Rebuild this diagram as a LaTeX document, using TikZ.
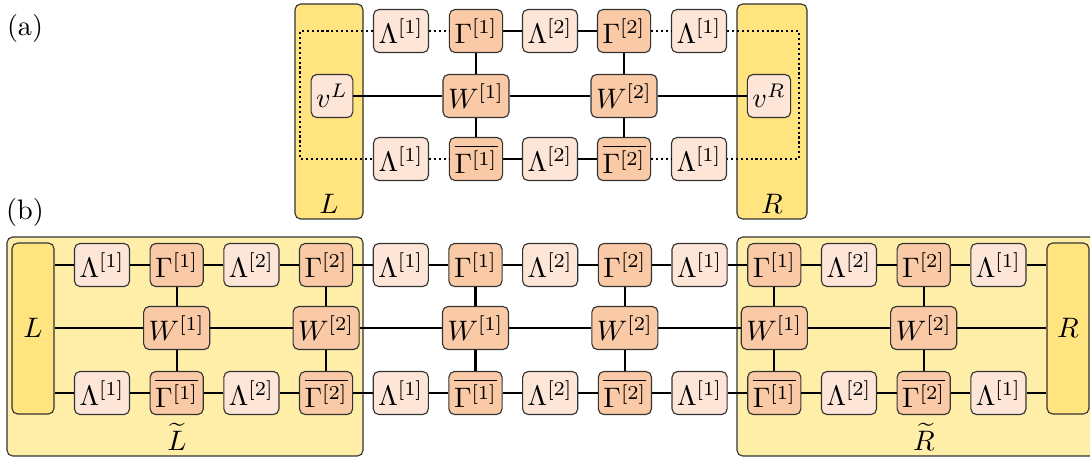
\documentclass[tikz,border=0pt]{standalone}
\usetikzlibrary{fit}
\definecolor{lamcol}{HTML}{FDE6D8}
\definecolor{gamcol}{HTML}{FAC9A6}
\definecolor{envcol}{HTML}{FFE47F}
\definecolor{blkcol}{HTML}{FFEEA8}
\tikzset{
  lam/.style={draw=black!80,fill=lamcol,rounded corners=2pt,minimum height=15.3pt,inner xsep=1.8pt,inner ysep=1pt},
  gam/.style={lam,fill=gamcol},
  env/.style={draw=black!80,fill=envcol,rounded corners=2pt,inner sep=0pt},
  blk/.style={draw=black!80,fill=blkcol,rounded corners=2pt,inner sep=0pt},
  lab/.style={inner sep=0pt},
  bond/.style={line width=0.75pt},
  dbond/.style={line width=0.75pt,densely dotted}
}
\begin{document}
\begin{tikzpicture}[x=0.355pt,y=-0.355pt]
  \useasboundingbox (0,0) rectangle (1090,457);
  \node[lab] (la) at (25,28) {(a)};
  \node[lab] (lb) at (25,212) {(b)};

  % (a) environments
  \node[env,fit={(295,4) (363,219)}] (aL) {};
  \node[env,fit={(737,4) (807,219)}] (aR) {};
  \node[lab] (aLlab) at (329,204) {$L$};
  \node[lab] (aRlab) at (772,204) {$R$};

  % (a) tensors
  \node[lam] (atl1) at (401,31) {$\Lambda^{[1]}$};
  \node[gam] (atg1) at (476,31) {$\Gamma^{[1]}$};
  \node[lam] (atl2) at (550,31) {$\Lambda^{[2]}$};
  \node[gam] (atg2) at (624,31) {$\Gamma^{[2]}$};
  \node[lam] (atl3) at (699,31) {$\Lambda^{[1]}$};
  \node[lam] (avL) at (332,96) {$v^L$};
  \node[gam] (aw1) at (476,96) {$W^{[1]}$};
  \node[gam] (aw2) at (624,96) {$W^{[2]}$};
  \node[lam] (avR) at (769,96) {$v^R$};
  \node[lam] (abl1) at (401,159) {$\Lambda^{[1]}$};
  \node[gam] (abg1) at (476,159) {$\overline{\Gamma^{[1]}}$};
  \node[lam] (abl2) at (550,159) {$\Lambda^{[2]}$};
  \node[gam] (abg2) at (624,159) {$\overline{\Gamma^{[2]}}$};
  \node[lam] (abl3) at (699,159) {$\Lambda^{[1]}$};

  \draw[dbond] (atl1.west) -- ++(-73,0) |- (abl1.west);
  \draw[dbond] (atl3.east) -- ++(72,0) |- (abl3.east);
  \draw[dbond] (atl1) -- (atg1) (atg2) -- (atl3);
  \draw[dbond] (abl1) -- (abg1) (abg2) -- (abl3);
  \draw[bond] (atg1) -- (atl2) -- (atg2);
  \draw[bond] (abg1) -- (abl2) -- (abg2);
  \draw[bond] (atg1) -- (aw1) -- (abg1);
  \draw[bond] (atg2) -- (aw2) -- (abg2);
  \draw[bond] (avL) -- (aw1) -- (aw2) -- (avR);

  % (b) blocks
  \node[blk,fit={(7,237) (363,456)}] (bLt) {};
  \node[blk,fit={(737,237) (1095,456)}] (bRt) {};
  \node[env,fit={(12,243) (54,414)}] (bL) {};
  \node[env,fit={(1047,243) (1089,414)}] (bR) {};
  \node[lab] (bLlab) at (33,328) {$L$};
  \node[lab] (bRlab) at (1068,328) {$R$};
  \node[lab] (bLtlab) at (177,437) {$\widetilde{L}$};
  \node[lab] (bRtlab) at (924,437) {$\widetilde{R}$};

  % (b) tensors
  \foreach \i [evaluate=\i as \x using {102+74.7*(\i-1)},
               evaluate=\i as \s using {int(mod(int((\i-1)/2),2)+1)}] in {1,...,13} {
    \ifodd\i
      \node[lam] (t\i) at (\x,265) {$\Lambda^{[\s]}$};
      \node[lam] (b\i) at (\x,393) {$\Lambda^{[\s]}$};
    \else
      \node[gam] (t\i) at (\x,265) {$\Gamma^{[\s]}$};
      \node[gam] (w\i) at (\x,328) {$W^{[\s]}$};
      \node[gam] (b\i) at (\x,393) {$\overline{\Gamma^{[\s]}}$};
      \draw[bond] (t\i) -- (w\i) -- (b\i);
    \fi
  }
  \foreach \i [evaluate=\i as \j using {int(\i+1)}] in {1,...,12} {
    \draw[bond] (t\i) -- (t\j);
    \draw[bond] (b\i) -- (b\j);
  }
  \foreach \i/\j in {2/4,4/6,6/8,8/10,10/12}
    \draw[bond] (w\i) -- (w\j);
  \draw[bond] (bL.east |- t1) -- (t1);
  \draw[bond] (bL.east |- b1) -- (b1);
  \draw[bond] (bL.east |- w2) -- (w2);
  \draw[bond] (t13) -- (bR.west |- t13);
  \draw[bond] (b13) -- (bR.west |- b13);
  \draw[bond] (w12) -- (bR.west |- w12);
\end{tikzpicture}
\end{document}
